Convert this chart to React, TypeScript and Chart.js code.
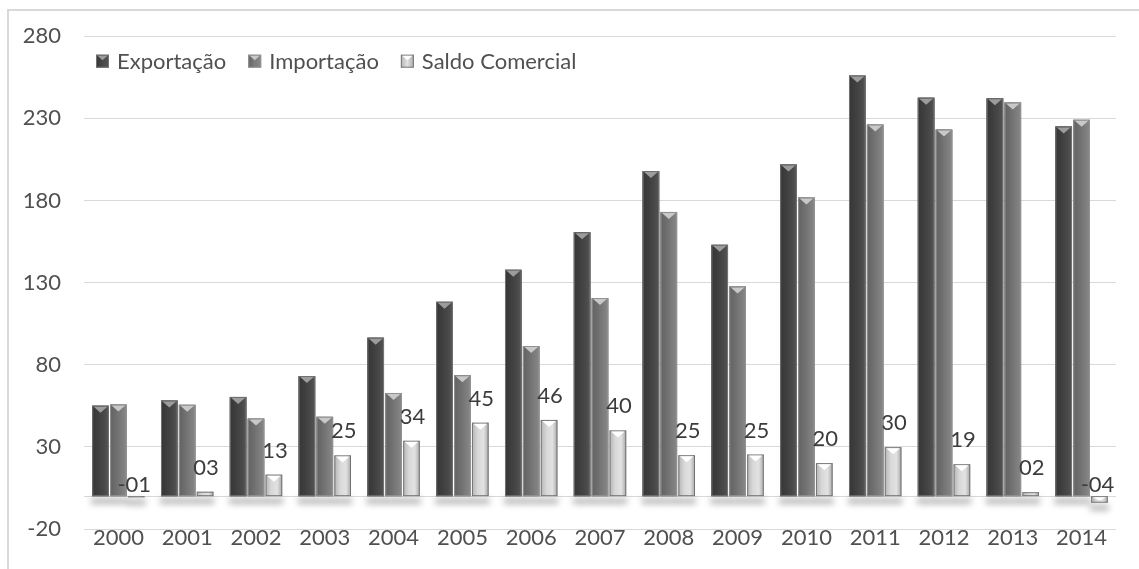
import React, { useEffect, useRef } from "react";
import { Chart, registerables } from "chart.js";

Chart.register(...registerables);

const years = ["2000", "2001", "2002", "2003", "2004", "2005", "2006", "2007", "2008", "2009", "2010", "2011", "2012", "2013", "2014"];
const exportacao = [55.1, 58.2, 60.4, 73.1, 96.5, 118.3, 137.8, 160.6, 197.9, 153.0, 201.9, 256.0, 242.6, 242.2, 225.1];
const importacao = [55.8, 55.6, 47.2, 48.3, 62.8, 73.6, 91.4, 120.6, 173.0, 127.7, 181.8, 226.2, 223.2, 239.7, 229.1];
const saldoComercial = [-0.7, 2.7, 13.1, 24.8, 33.7, 44.7, 46.4, 40.0, 24.9, 25.3, 20.1, 29.8, 19.4, 2.4, -4.0];
const seriesNames = ["Exportação", "Importação", "Saldo Comercial"];
const yMin = -20;
const yMax = 280;
const yStep = 50;

const FONT = "Lato, 'Open Sans', sans-serif";
const TEXT = "#505050";

const barStyles = [
  { stops: ["#363636", "#3e3e3e", "#484848", "#555555"], cap: "#9c9c9c", border: "rgba(120,120,120,0.9)" },
  { stops: ["#626262", "#6e6e6e", "#7c7c7c", "#888888"], cap: "#c8c8c8", border: "rgba(150,150,150,0.9)" },
  { stops: ["#b4b4b4", "#d8d8d8", "#e2e2e2", "#a8a8a8"], cap: "#ffffff", border: "rgba(110,110,110,0.9)" },
];

function fmtLabel(v: number): string {
  const r = Math.round(Math.abs(v));
  const s = r < 10 ? "0" + r : String(r);
  return (v < 0 ? "-" : "") + s;
}

const barFx = {
  id: "barFx",
  beforeDatasetsDraw(chart: any) {
    const ctx = chart.ctx as CanvasRenderingContext2D;
    const area = chart.chartArea;
    const y0 = chart.scales.y.getPixelForValue(0);
    ctx.save();
    ctx.strokeStyle = "#d9d9d9";
    ctx.lineWidth = 1;
    ctx.beginPath();
    ctx.moveTo(area.left, Math.round(y0) + 0.5);
    ctx.lineTo(area.right, Math.round(y0) + 0.5);
    ctx.stroke();
    ctx.restore();
    ctx.save();
    ctx.filter = "blur(3px)";
    ctx.fillStyle = "rgba(0,0,0,0.28)";
    chart.data.datasets.forEach((_: any, di: number) => {
      chart.getDatasetMeta(di).data.forEach((el: any) => {
        const p = el.getProps(["x", "y", "base", "width"], true);
        const bottom = Math.max(p.y, p.base);
        ctx.fillRect(p.x - p.width / 2 - 1, bottom + 2, p.width + 2, 6);
      });
    });
    ctx.restore();
  },
  afterDatasetsDraw(chart: any) {
    const ctx = chart.ctx as CanvasRenderingContext2D;
    chart.data.datasets.forEach((ds: any, di: number) => {
      const st = barStyles[di];
      chart.getDatasetMeta(di).data.forEach((el: any, i: number) => {
        const p = el.getProps(["x", "y", "base", "width"], true);
        const left = p.x - p.width / 2;
        const top = Math.min(p.y, p.base);
        const h = Math.abs(p.base - p.y);
        ctx.save();
        const g = ctx.createLinearGradient(left, 0, left + p.width, 0);
        g.addColorStop(0, st.stops[0]);
        g.addColorStop(0.35, st.stops[1]);
        g.addColorStop(0.7, st.stops[2]);
        g.addColorStop(1, st.stops[3]);
        ctx.fillStyle = g;
        ctx.fillRect(left, top, p.width, h);
        ctx.strokeStyle = st.border;
        ctx.lineWidth = 1;
        ctx.strokeRect(left + 0.5, top + 0.5, p.width - 1, Math.max(h - 1, 0));
        if (h > 6) {
          const capH = Math.min(6, h / 2);
          ctx.fillStyle = st.cap;
          ctx.beginPath();
          ctx.moveTo(left + 1.5, top + 1);
          ctx.lineTo(left + p.width - 1.5, top + 1);
          ctx.lineTo(p.x, top + 1 + capH);
          ctx.closePath();
          ctx.fill();
        }
        ctx.restore();
        if (di === 2) {
          const v = ds.data[i];
          ctx.save();
          ctx.font = "22px " + FONT;
          ctx.fillStyle = "#3c3c3c";
          ctx.textAlign = "center";
          ctx.textBaseline = "alphabetic";
          const yb = v < 0 ? p.base - 4 : p.y - 17;
          ctx.fillText(fmtLabel(v), p.x + (v < 0 ? -2 : 1), yb);
          ctx.restore();
        }
      });
    });
  },
  afterDraw(chart: any) {
    const ctx = chart.ctx as CanvasRenderingContext2D;
    const area = chart.chartArea;
    let x = area.left + 12;
    const cy = area.top + 25;
    ctx.save();
    ctx.font = "22px " + FONT;
    ctx.textBaseline = "middle";
    ctx.textAlign = "left";
    seriesNames.forEach((n, i) => {
      const st = barStyles[i];
      const g = ctx.createLinearGradient(x, 0, x + 13, 0);
      g.addColorStop(0, st.stops[0]);
      g.addColorStop(0.5, st.stops[2]);
      g.addColorStop(1, st.stops[3]);
      ctx.fillStyle = g;
      ctx.fillRect(x, cy - 6.5, 13, 13);
      ctx.strokeStyle = st.border;
      ctx.lineWidth = 1;
      ctx.strokeRect(x + 0.5, cy - 6, 12, 12);
      ctx.fillStyle = st.cap;
      ctx.beginPath();
      ctx.moveTo(x + 1.5, cy - 5.5);
      ctx.lineTo(x + 11.5, cy - 5.5);
      ctx.lineTo(x + 6.5, cy - 1);
      ctx.closePath();
      ctx.fill();
      ctx.fillStyle = TEXT;
      ctx.fillText(n, x + 21, cy + 1);
      x += 21 + ctx.measureText(n).width + 22;
    });
    ctx.restore();
  },
};

export default function App() {
  const ref = useRef<HTMLCanvasElement | null>(null);
  useEffect(() => {
    if (!ref.current) return;
    const chart = new Chart(ref.current, {
      type: "bar",
      data: {
        labels: years,
        datasets: [
          { label: seriesNames[0], data: exportacao, backgroundColor: "#444444", borderWidth: 0 },
          { label: seriesNames[1], data: importacao, backgroundColor: "#707070", borderWidth: 0 },
          { label: seriesNames[2], data: saldoComercial, backgroundColor: "#cccccc", borderWidth: 0 },
        ],
      },
      options: {
        animation: false,
        responsive: false,
        maintainAspectRatio: false,
        datasets: { bar: { categoryPercentage: 0.78, barPercentage: 0.93 } },
        layout: { padding: { top: 35, right: 23, bottom: 9, left: 0 } },
        plugins: {
          tooltip: { enabled: false },
          legend: { display: false },
        },
        scales: {
          x: {
            grid: { display: false, drawTicks: false },
            border: { display: false },
            ticks: { color: TEXT, font: { family: FONT, size: 22 }, padding: -4 },
            afterFit: (s: any) => { s.height = 31; },
          },
          y: {
            min: yMin,
            max: yMax,
            grid: { color: "#d9d9d9", drawTicks: false },
            border: { display: false },
            ticks: { stepSize: yStep, color: TEXT, font: { family: FONT, size: 22 }, padding: 23 },
            afterFit: (s: any) => { s.width = 84; },
          },
        },
      },
      plugins: [barFx],
    });
    return () => chart.destroy();
  }, []);
  return (
    <div style={{ position: "fixed", left: 0, top: 0, width: 1139, height: 569, background: "#fff", overflow: "hidden" }}>
      <div style={{ position: "absolute", left: 7, top: 9, width: 1200, height: 700, borderLeft: "2px solid #d9d9d9", borderTop: "2px solid #d9d9d9" }} />
      <canvas ref={ref} width={1139} height={569} style={{ position: "absolute", left: 0, top: 0 }} />
    </div>
  );
}
